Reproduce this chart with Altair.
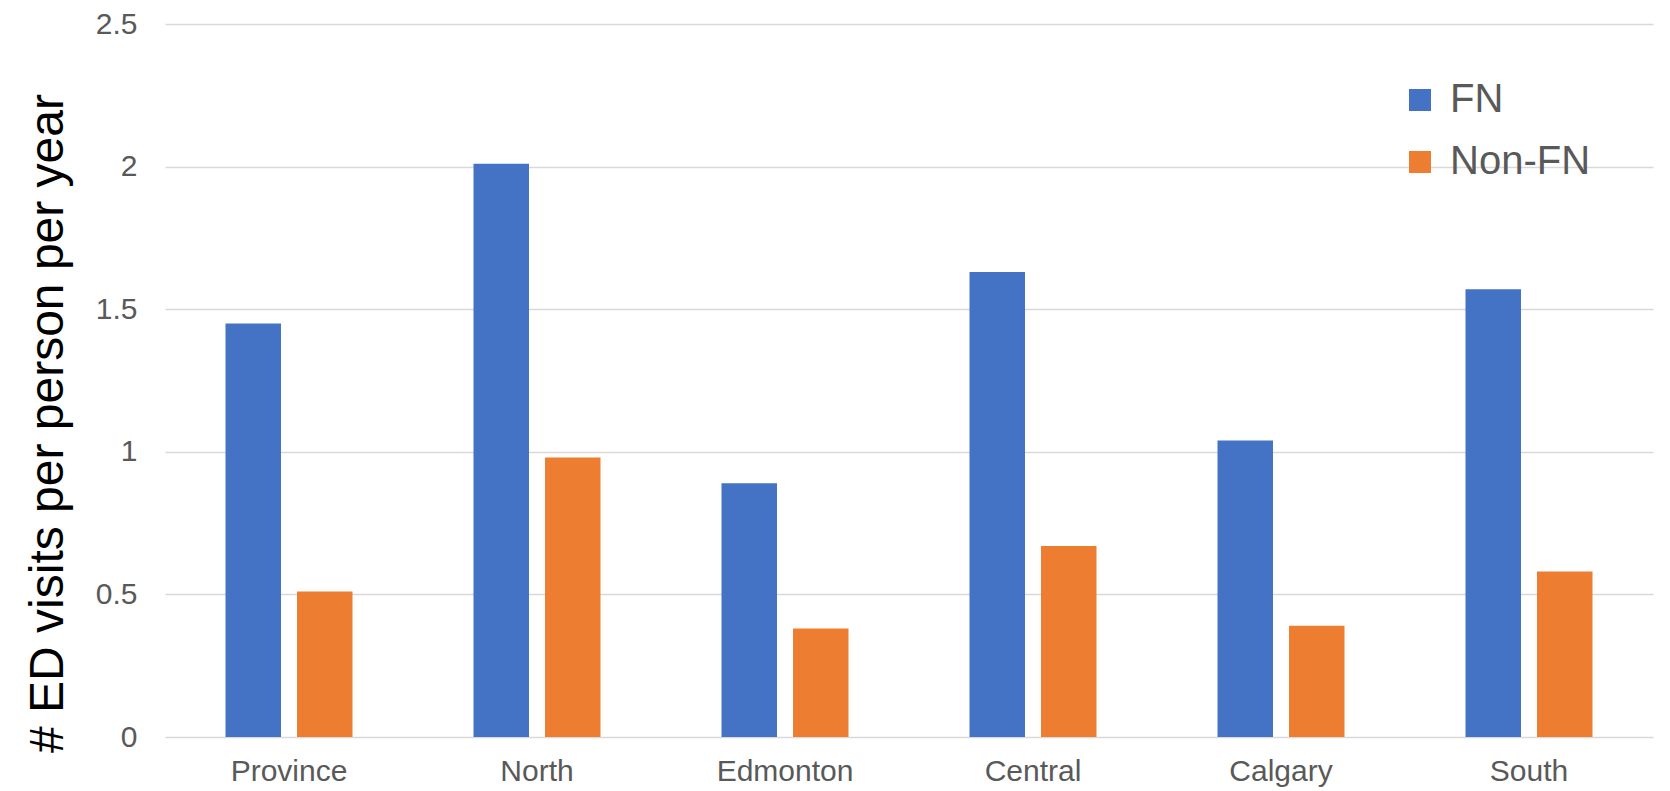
import altair as alt
import pandas as pd

regions = ["Province", "North", "Edmonton", "Central", "Calgary", "South"]
series = ["FN", "Non-FN"]
fn_values = [1.45, 2.01, 0.89, 1.63, 1.04, 1.57]
nonfn_values = [0.51, 0.98, 0.38, 0.67, 0.39, 0.58]
y_ticks = [0, 0.5, 1, 1.5, 2, 2.5]
colors = ["#4472C4", "#ED7D31"]

rows = []
for r, a, b in zip(regions, fn_values, nonfn_values):
    rows.append({"region": r, "series": "FN", "value": a})
    rows.append({"region": r, "series": "Non-FN", "value": b})
df = pd.DataFrame(rows)

FONT = "Liberation Sans"
TXT = "#595959"

W, H = 1488, 713

chart = alt.Chart(df).mark_bar().encode(
    x=alt.X("region:N", sort=regions,
            scale=alt.Scale(paddingInner=0, paddingOuter=0),
            axis=alt.Axis(title=None, labelAngle=0, tickSize=0, domain=False,
                          labelFontSize=30, labelColor=TXT, labelFont=FONT,
                          labelBaseline="middle", labelPadding=34)),
    xOffset=alt.XOffset("series:N", sort=series,
                        scale=alt.Scale(paddingInner=0.224, paddingOuter=0.846)),
    y=alt.Y("value:Q", scale=alt.Scale(domain=[0, 2.5], nice=False),
            axis=alt.Axis(values=y_ticks, format="~g", title="# ED visits per person per year",
                          tickSize=0, domain=False, labelPadding=28,
                          labelFontSize=30, labelColor=TXT, labelFont=FONT,
                          gridColor="#D9D9D9", gridWidth=1.5,
                          titleFont=FONT, titleFontSize=48, titleFontWeight="normal",
                          titleColor="#000000", titleAngle=-90,
                          titleX=-117, titleY=399, titleAlign="center",
                          titleBaseline="middle")),
    color=alt.Color("series:N", sort=series,
                    scale=alt.Scale(domain=series, range=colors),
                    legend=alt.Legend(title=None, orient="none",
                                      legendX=1235, legendY=56,
                                      symbolType="square", symbolSize=484,
                                      symbolStrokeWidth=0, symbolOpacity=1,
                                      labelFontSize=40, labelFont=FONT,
                                      labelColor=TXT, labelOffset=10,
                                      rowPadding=22)),
).properties(
    width=W, height=H,
    padding={"left": 157, "top": 16, "right": 9, "bottom": 54},
    autosize=alt.AutoSizeParams(type="none"),
).configure_view(stroke=None).configure_axis(grid=True).configure_axisX(grid=False)

chart.save("out.html", embed_options={"renderer": "svg", "actions": False})
